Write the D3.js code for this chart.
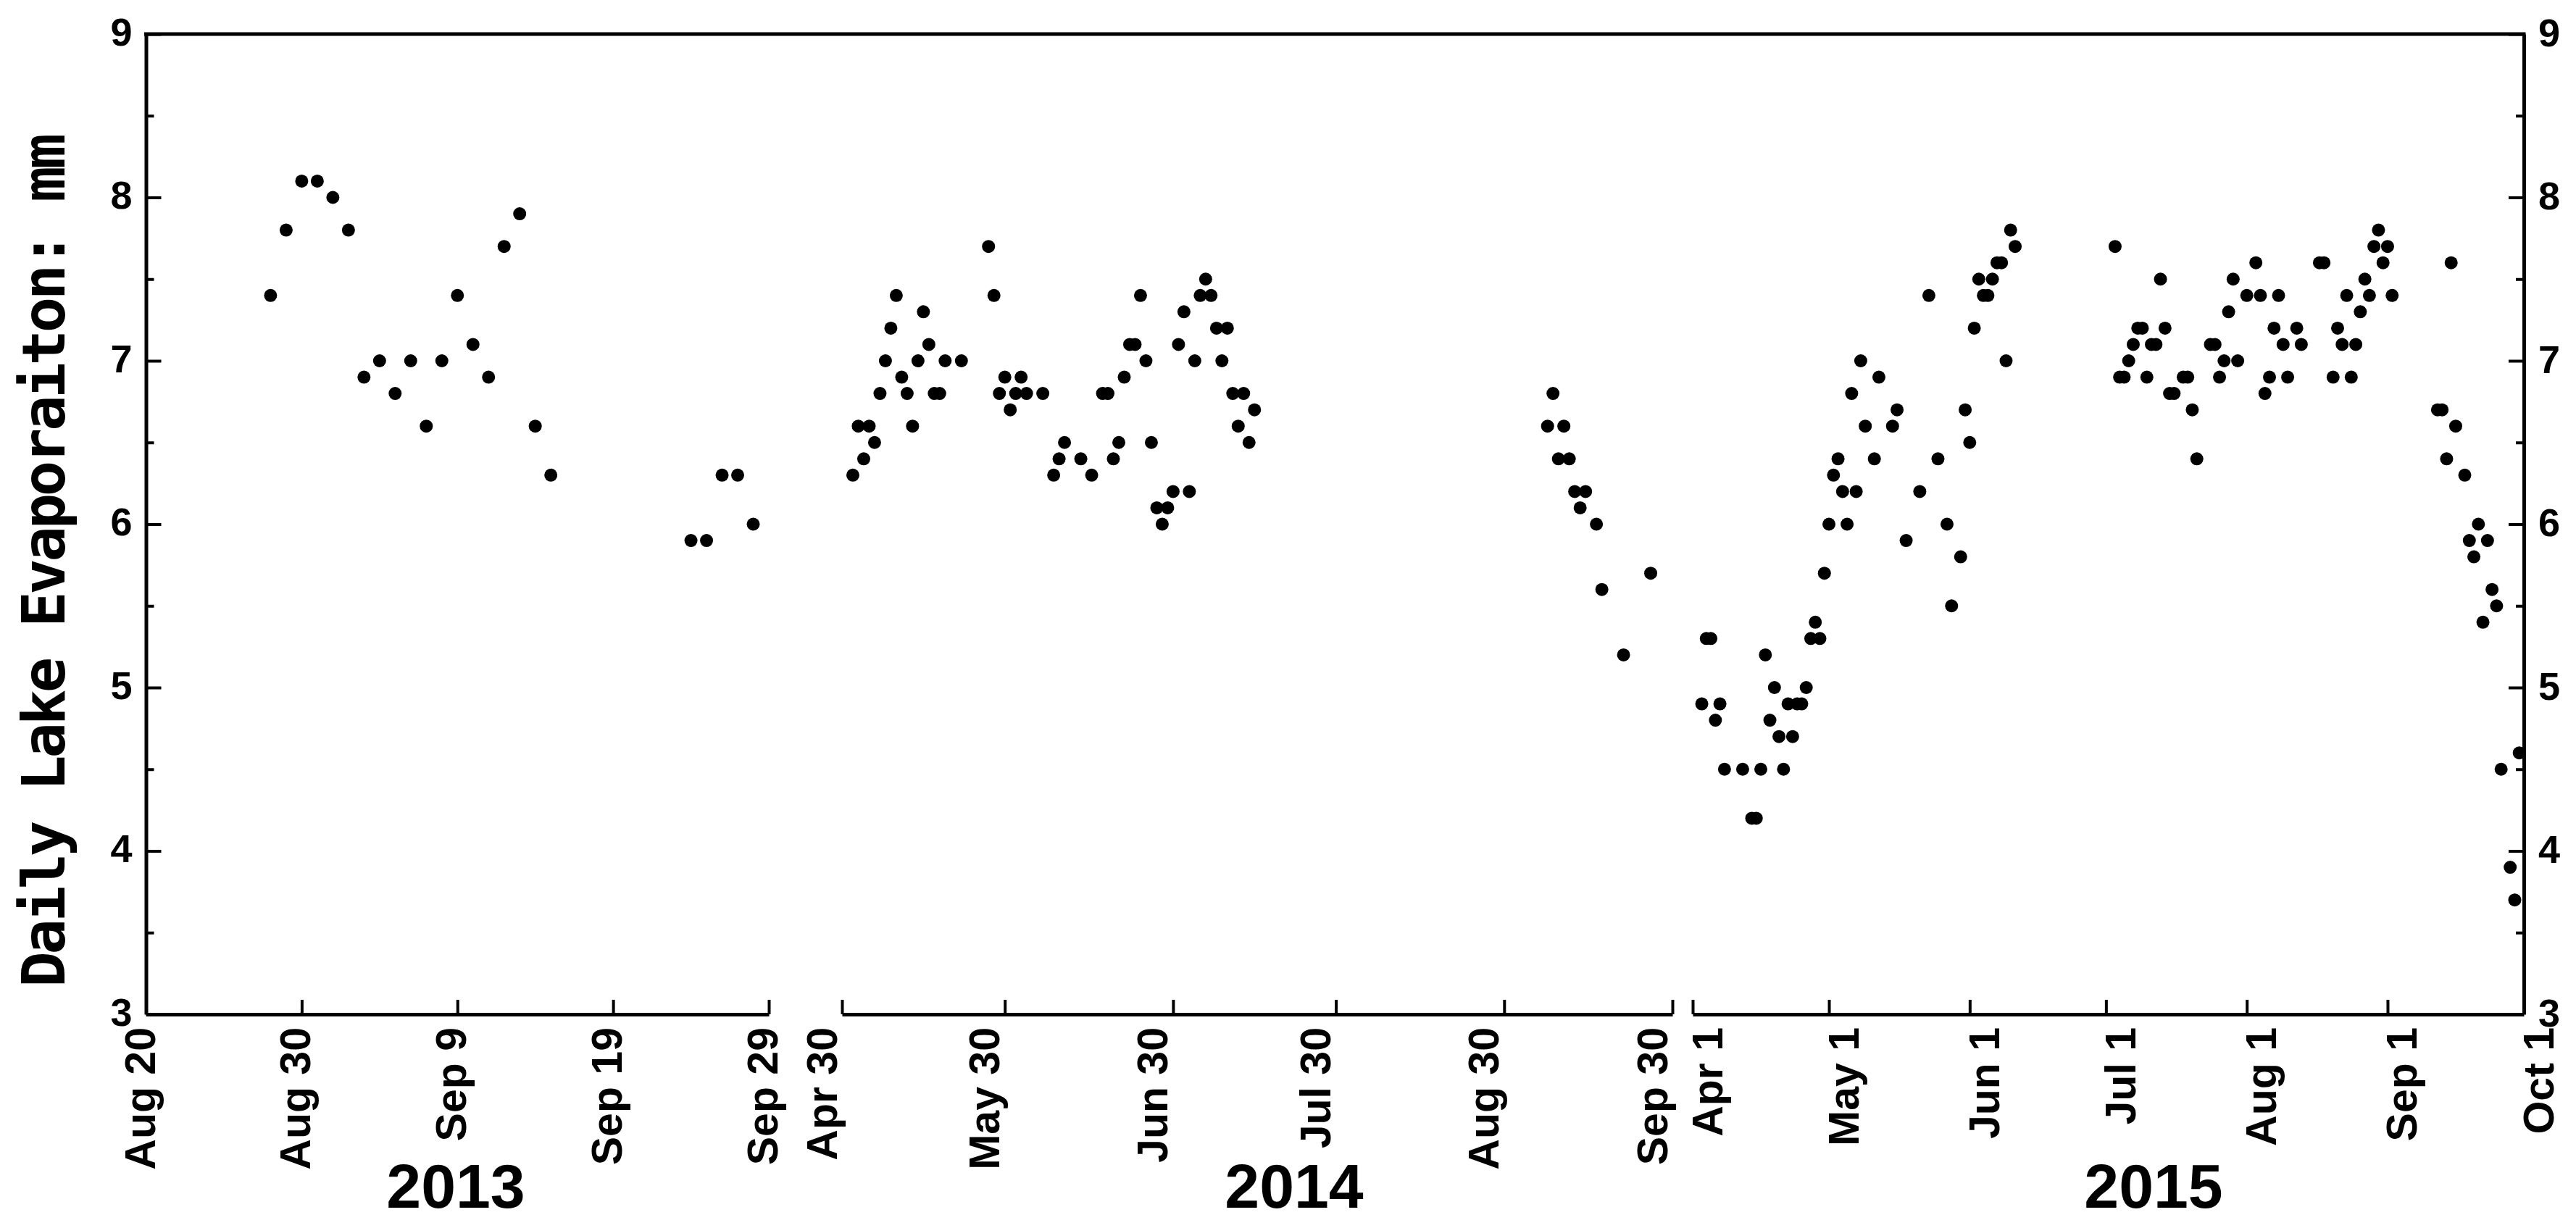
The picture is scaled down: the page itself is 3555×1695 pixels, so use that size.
<!DOCTYPE html>
<html>
<head>
<meta charset="utf-8">
<script src="https://cdn.jsdelivr.net/npm/d3@7"></script>
<style>
html,body{margin:0;padding:0;background:#fff;}
svg{display:block;}
</style>
</head>
<body>
<svg id="chart" width="3555" height="1695"></svg>
<script>
// ---------------- DATA ----------------
const dates2013 = ["2013-08-28","2013-08-29","2013-08-30","2013-08-31","2013-09-01","2013-09-02","2013-09-03","2013-09-04",
  "2013-09-05","2013-09-06","2013-09-07","2013-09-08","2013-09-09","2013-09-10","2013-09-11","2013-09-12","2013-09-13",
  "2013-09-14","2013-09-15","2013-09-24","2013-09-25","2013-09-26","2013-09-27","2013-09-28"];
const evap2013 = [7.4,7.8,8.1,8.1,8.0,7.8,6.9,7.0,6.8,7.0,6.6,7.0,7.4,7.1,6.9,7.7,7.9,6.6,6.3,5.9,5.9,6.3,6.3,6.0];

const dates2014 = ["2014-05-02","2014-05-03","2014-05-04","2014-05-05","2014-05-06","2014-05-07","2014-05-08","2014-05-09",
  "2014-05-10","2014-05-11","2014-05-12","2014-05-13","2014-05-14","2014-05-15","2014-05-16","2014-05-17","2014-05-18",
  "2014-05-19","2014-05-22","2014-05-27","2014-05-28","2014-05-29","2014-05-30","2014-05-31","2014-06-01","2014-06-02",
  "2014-06-03","2014-06-06","2014-06-08","2014-06-09","2014-06-10","2014-06-13","2014-06-15","2014-06-17","2014-06-18",
  "2014-06-19","2014-06-20","2014-06-21","2014-06-22","2014-06-23","2014-06-24","2014-06-25","2014-06-26","2014-06-27",
  "2014-06-28","2014-06-29","2014-06-30","2014-07-01","2014-07-02","2014-07-03","2014-07-04","2014-07-05","2014-07-06",
  "2014-07-07","2014-07-08","2014-07-09","2014-07-10","2014-07-11","2014-07-12","2014-07-13","2014-07-14","2014-07-15",
  "2014-09-07","2014-09-08","2014-09-09","2014-09-10","2014-09-11","2014-09-12","2014-09-13","2014-09-14","2014-09-16",
  "2014-09-17","2014-09-21","2014-09-26"];
const evap2014 = [6.3,6.6,6.4,6.6,6.5,6.8,7.0,7.2,
  7.4,6.9,6.8,6.6,7.0,7.3,7.1,6.8,6.8,
  7.0,7.0,7.7,7.4,6.8,6.9,6.7,6.8,6.9,
  6.8,6.8,6.3,6.4,6.5,6.4,6.3,6.8,6.8,
  6.4,6.5,6.9,7.1,7.1,7.4,7.0,6.5,6.1,
  6.0,6.1,6.2,7.1,7.3,6.2,7.0,7.4,7.5,
  7.4,7.2,7.0,7.2,6.8,6.6,6.8,6.5,6.7,
  6.6,6.8,6.4,6.6,6.4,6.2,6.1,6.2,6.0,
  5.6,5.2,5.7];

const dates2015 = ["2015-04-03","2015-04-04","2015-04-05","2015-04-06","2015-04-07","2015-04-08","2015-04-12","2015-04-14",
  "2015-04-15","2015-04-16","2015-04-17","2015-04-18","2015-04-19","2015-04-20","2015-04-21","2015-04-22","2015-04-23",
  "2015-04-24","2015-04-25","2015-04-26","2015-04-27","2015-04-28","2015-04-29","2015-04-30","2015-05-01","2015-05-02",
  "2015-05-03","2015-05-04","2015-05-05","2015-05-06","2015-05-07","2015-05-08","2015-05-09","2015-05-11","2015-05-12",
  "2015-05-15","2015-05-16","2015-05-18","2015-05-21","2015-05-23","2015-05-25","2015-05-27","2015-05-28","2015-05-30",
  "2015-05-31","2015-06-01","2015-06-02","2015-06-03","2015-06-04","2015-06-05","2015-06-06","2015-06-07","2015-06-08",
  "2015-06-09","2015-06-10","2015-06-11",
  "2015-07-03","2015-07-04","2015-07-05","2015-07-06","2015-07-07","2015-07-08","2015-07-09","2015-07-10","2015-07-11",
  "2015-07-12","2015-07-13","2015-07-14","2015-07-15","2015-07-16","2015-07-18","2015-07-19","2015-07-20","2015-07-21",
  "2015-07-24","2015-07-25","2015-07-26","2015-07-27","2015-07-28","2015-07-29","2015-07-30","2015-08-01","2015-08-03",
  "2015-08-04","2015-08-05","2015-08-06","2015-08-07","2015-08-08","2015-08-09","2015-08-10","2015-08-12","2015-08-13",
  "2015-08-17","2015-08-18","2015-08-20","2015-08-21","2015-08-22","2015-08-23","2015-08-24","2015-08-25","2015-08-26",
  "2015-08-27","2015-08-28","2015-08-29","2015-08-30","2015-08-31","2015-09-01","2015-09-02",
  "2015-09-12","2015-09-13","2015-09-14","2015-09-15","2015-09-16","2015-09-18","2015-09-19","2015-09-20","2015-09-21",
  "2015-09-22","2015-09-23","2015-09-24","2015-09-25","2015-09-26","2015-09-28","2015-09-29","2015-09-30"];
const evap2015 = [4.9,5.3,5.3,4.8,4.9,4.5,4.5,4.2,
  4.2,4.5,5.2,4.8,5.0,4.7,4.5,4.9,4.7,
  4.9,4.9,5.0,5.3,5.4,5.3,5.7,6.0,6.3,
  6.4,6.2,6.0,6.8,6.2,7.0,6.6,6.4,6.9,
  6.6,6.7,5.9,6.2,7.4,6.4,6.0,5.5,5.8,
  6.7,6.5,7.2,7.5,7.4,7.4,7.5,7.6,7.6,
  7.0,7.8,7.7,
  7.7,6.9,6.9,7.0,7.1,7.2,7.2,6.9,7.1,
  7.1,7.5,7.2,6.8,6.8,6.9,6.9,6.7,6.4,
  7.1,7.1,6.9,7.0,7.3,7.5,7.0,7.4,7.6,
  7.4,6.8,6.9,7.2,7.4,7.1,6.9,7.2,7.1,
  7.6,7.6,6.9,7.2,7.1,7.4,6.9,7.1,7.3,
  7.5,7.4,7.7,7.8,7.6,7.7,7.4,
  6.7,6.7,6.4,7.6,6.6,6.3,5.9,5.8,6.0,
  5.4,5.9,5.6,5.5,4.5,3.9,3.7,4.6];

const ticks2013 = ["2013-08-20","2013-08-30","2013-09-09","2013-09-19","2013-09-29"];
const tickLabels2013 = ["Aug 20","Aug 30","Sep 9","Sep 19","Sep 29"];
const ticks2014 = ["2014-04-30","2014-05-30","2014-06-30","2014-07-30","2014-08-30","2014-09-30"];
const tickLabels2014 = ["Apr 30","May 30","Jun 30","Jul 30","Aug 30","Sep 30"];
const ticks2015 = ["2015-04-01","2015-05-01","2015-06-01","2015-07-01","2015-08-01","2015-09-01","2015-10-01"];
const tickLabels2015 = ["Apr 1","May 1","Jun 1","Jul 1","Aug 1","Sep 1","Oct 1"];
const yearLabels = ["2013","2014","2015"];
const yMajorTicks = [3,4,5,6,7,8,9];
const yMinorTicks = [3.5,4.5,5.5,6.5,7.5,8.5];
const yTitle = "Daily Lake Evaporaiton: mm";

// ---------------- LAYOUT ----------------
const parse = d3.utcParse("%Y-%m-%d");
const svg = d3.select("#chart");
const FONT = "'Liberation Sans', Arial, Helvetica, sans-serif";
const yTop = 47, yBot = 1400, xLeft = 201.5, xRight = 3483;
const AXW = 5;

const y = d3.scaleLinear().domain([3, 9]).range([yBot, yTop]);

const segments = [
  {dates: dates2013, vals: evap2013, domain: ["2013-08-20","2013-09-29"], range: [xLeft, 1061],
   ticks: ticks2013, labels: tickLabels2013, year: yearLabels[0], labelDx: 11.5, yearX: 629},
  {dates: dates2014, vals: evap2014, domain: ["2014-04-30","2014-09-30"], range: [1162, 2308],
   ticks: ticks2014, labels: tickLabels2014, year: yearLabels[1], labelDx: -8, yearX: 1786},
  {dates: dates2015, vals: evap2015, domain: ["2015-04-01","2015-10-01"], range: [2336, xRight],
   ticks: ticks2015, labels: tickLabels2015, year: yearLabels[2], labelDx: 40, yearX: 2972}
];

// top frame line
svg.append("line")
  .attr("x1", xLeft).attr("x2", xRight).attr("y1", yTop).attr("y2", yTop)
  .attr("stroke", "#000").attr("stroke-width", AXW).attr("stroke-linecap", "square");

segments.forEach(seg => {
  const x = d3.scaleUtc().domain(seg.domain.map(parse)).range(seg.range);
  const tickDates = seg.ticks.map(parse);
  const axis = d3.axisBottom(x)
    .tickValues(tickDates)
    .tickSizeInner(-20)
    .tickSizeOuter(0)
    .tickFormat((d, i) => seg.labels[i]);
  const g = svg.append("g").attr("transform", `translate(0,${yBot})`).call(axis);
  g.select(".domain").attr("stroke", "#000").attr("stroke-width", AXW);
  g.selectAll(".tick line").attr("stroke", "#000").attr("stroke-width", 4);
  g.selectAll(".tick text")
    .attr("x", 0).attr("y", 0).attr("dy", 0)
    .attr("text-anchor", "end")
    .attr("transform", `translate(${seg.labelDx},18) rotate(-90)`)
    .attr("fill", "#000")
    .style("font-family", FONT).style("font-weight", "bold").style("font-size", "59px");

  // year label
  svg.append("text")
    .attr("x", seg.yearX).attr("y", 1667)
    .attr("text-anchor", "middle")
    .style("font-family", FONT).style("font-weight", "bold").style("font-size", "86px")
    .text(seg.year);

  // points
  svg.append("g").selectAll("circle")
    .data(seg.dates.map((d, i) => ({date: parse(d), v: seg.vals[i]})))
    .join("circle")
    .attr("cx", d => x(d.date))
    .attr("cy", d => y(d.v))
    .attr("r", 9)
    .attr("fill", "#000");
});

// left axis
const leftAxis = d3.axisLeft(y).tickValues(yMajorTicks).tickSizeInner(-21).tickSizeOuter(0).tickFormat(d3.format("d"));
const gl = svg.append("g").attr("transform", `translate(${xLeft},0)`).call(leftAxis);
gl.select(".domain").attr("stroke", "#000").attr("stroke-width", AXW);
gl.selectAll(".tick line").attr("stroke", "#000").attr("stroke-width", 4);
gl.selectAll(".tick text")
  .attr("x", -19).attr("dy", 0).attr("y", 15)
  .attr("text-anchor", "end").attr("fill", "#000")
  .style("font-family", FONT).style("font-weight", "bold").style("font-size", "54px");
const leftMinor = d3.axisLeft(y).tickValues(yMinorTicks).tickSizeInner(-11).tickSizeOuter(0).tickFormat("");
const glm = svg.append("g").attr("transform", `translate(${xLeft},0)`).call(leftMinor);
glm.select(".domain").remove();
glm.selectAll(".tick line").attr("stroke", "#000").attr("stroke-width", 4);

// right axis
const rightAxis = d3.axisRight(y).tickValues(yMajorTicks).tickSizeInner(-21).tickSizeOuter(0).tickFormat(d3.format("d"));
const gr = svg.append("g").attr("transform", `translate(${xRight},0)`).call(rightAxis);
gr.select(".domain").attr("stroke", "#000").attr("stroke-width", AXW);
gr.selectAll(".tick line").attr("stroke", "#000").attr("stroke-width", 4);
gr.selectAll(".tick text")
  .attr("x", 20).attr("dy", 0).attr("y", 16)
  .attr("text-anchor", "start").attr("fill", "#000")
  .style("font-family", FONT).style("font-weight", "bold").style("font-size", "54px");
const rightMinor = d3.axisRight(y).tickValues(yMinorTicks).tickSizeInner(-11).tickSizeOuter(0).tickFormat("");
const grm = svg.append("g").attr("transform", `translate(${xRight},0)`).call(rightMinor);
grm.select(".domain").remove();
grm.selectAll(".tick line").attr("stroke", "#000").attr("stroke-width", 4);

// y-axis title
svg.append("text")
  .attr("transform", `translate(89,${(188 + 1363) / 2}) rotate(-90)`)
  .attr("text-anchor", "middle")
  .style("font-family", "'DejaVu Sans Mono', 'Liberation Mono', monospace")
  .style("font-weight", "bold").style("font-size", "82px")
  .style("letter-spacing", "-4.2px")
  .text(yTitle);
</script>
</body>
</html>
